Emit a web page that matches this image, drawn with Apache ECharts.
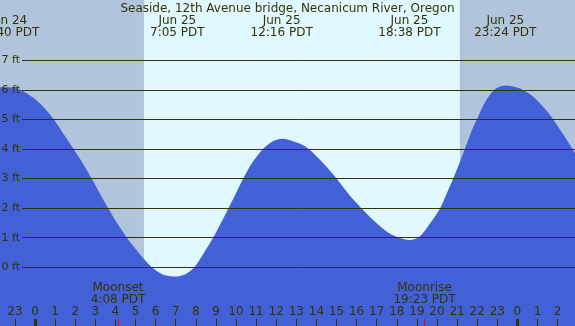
<!DOCTYPE html>
<html>
<head>
<meta charset="utf-8">
<script src="https://cdn.jsdelivr.net/npm/echarts@6/dist/echarts.min.js"></script>
<style>
  html, body { margin: 0; padding: 0; background: #fff; }
  #chart { width: 575px; height: 326px; }
</style>
</head>
<body>
<div id="chart"></div>
<script>
// tide heights (ft), hours counted from Jun 25 00:00 PDT
const tideHours = [
  -2.2, -1.74, -1.0, -0.5, -0.08, 0.42, 0.91, 1.41, 1.91, 2.41, 2.82, 3.23, 3.65, 4.06, 4.56,
  5.06, 5.47, 5.89, 6.39, 6.97, 7.46, 7.93, 8.37, 8.87, 9.29, 9.62, 10.03, 10.36, 10.78, 11.36,
  11.86, 12.3, 13.1, 13.6, 14.26, 14.93, 15.59, 16.25, 16.92, 17.58, 18.24, 18.64, 19.15, 19.65,
  20.15, 20.48, 20.81, 21.14, 21.39, 21.73, 21.98, 22.39, 22.89, 23.42, 24.04, 24.71, 25.37,
  25.79, 26.37, 26.83, 27.3,
];
const tideFeet = [
  6.05, 6.09, 6.07, 5.92, 5.73, 5.42, 5.02, 4.52, 4.01, 3.48, 3.0, 2.49, 1.99, 1.52, 1.01,
  0.58, 0.25, -0.04, -0.25, -0.31, -0.24, 0.0, 0.45, 1.01, 1.55, 1.99, 2.55, 3.0, 3.51, 4.01,
  4.27, 4.35, 4.2, 4.01, 3.58, 3.06, 2.49, 1.99, 1.54, 1.17, 0.97, 0.92, 1.05, 1.48,
  1.99, 2.49, 3.0, 3.56, 4.01, 4.63, 4.99, 5.58, 6.03, 6.15, 6.07, 5.81, 5.36,
  4.99, 4.4, 3.9, 3.35,
];

// high / low tide labels along the top
const eventHours = [-1.33, 7.08, 12.27, 18.63, 23.4];
const eventLabels = ['Jun 24\n22:40 PDT', 'Jun 25\n7:05 PDT', 'Jun 25\n12:16 PDT', 'Jun 25\n18:38 PDT', 'Jun 25\n23:24 PDT'];

// moon
const moonHours = [4.13, 19.38];
const moonLabels = ['Moonset\n4:08 PDT', 'Moonrise\n19:23 PDT'];

// daylight
const sunriseHour = 5.42;
const sunsetHour = 21.14;

const hourTicks = [-1, 0, 1, 2, 3, 4, 5, 6, 7, 8, 9, 10, 11, 12, 13, 14, 15, 16, 17, 18, 19, 20, 21, 22, 23, 24, 25, 26];
const midnightTicks = [0, 24];

const xMin = -1.741;
const xMax = 26.866;
const ink = '#333300';
const font = 'DejaVu Sans';

const nearest = (arr, v) => {
  let best = 0;
  arr.forEach((a, i) => { if (Math.abs(a - v) < Math.abs(arr[best] - v)) best = i; });
  return best;
};

const chart = echarts.init(document.getElementById('chart'));

const baseX = {
  gridIndex: 0,
  type: 'value',
  min: xMin,
  max: xMax,
  z: 4,
  axisLine: { show: false, onZero: false },
  splitLine: { show: false },
};

chart.setOption({
  animation: false,
  title: {
    text: 'Seaside, 12th Avenue bridge, Necanicum River, Oregon',
    left: 'center',
    top: -2,
    textStyle: { color: ink, fontSize: 12, fontWeight: 'normal', fontFamily: font },
  },
  grid: [
    { left: 0, right: 0, top: 0, bottom: 0, show: true, backgroundColor: '#E0F8FF', borderWidth: 0, outerBoundsMode: 'none', containLabel: false },
    { left: 22, right: 0, top: 60.3, bottom: 58.7, show: false, outerBoundsMode: 'none', containLabel: false },
  ],
  xAxis: [
    {
      ...baseX,
      position: 'bottom',
      axisTick: { customValues: hourTicks, inside: true, length: 7, lineStyle: { color: ink, width: 1 } },
      axisLabel: {
        customValues: hourTicks,
        inside: true,
        margin: 8,
        color: ink,
        fontSize: 12,
        fontFamily: font,
        formatter: v => String(((Math.round(v) % 24) + 24) % 24),
      },
    },
    {
      ...baseX,
      position: 'bottom',
      axisTick: { customValues: midnightTicks, inside: true, length: 7, lineStyle: { color: ink, width: 3 } },
      axisLabel: { show: false },
    },
    {
      ...baseX,
      position: 'bottom',
      axisTick: { customValues: moonHours, inside: true, length: 7, lineStyle: { color: '#ff0000', width: 1 } },
      axisLabel: {
        customValues: moonHours,
        inside: true,
        margin: 20,
        color: ink,
        fontSize: 12,
        lineHeight: 12,
        fontFamily: font,
        formatter: v => moonLabels[nearest(moonHours, v)],
      },
    },
    {
      ...baseX,
      position: 'top',
      axisTick: { show: false },
      axisLabel: {
        customValues: eventHours,
        inside: true,
        margin: 15,
        color: ink,
        fontSize: 12,
        lineHeight: 12,
        fontFamily: font,
        formatter: v => eventLabels[nearest(eventHours, v)],
      },
    },
    { gridIndex: 1, type: 'value', min: 0, max: 1, show: false },
  ],
  yAxis: [
    { gridIndex: 0, type: 'value', min: -1.985, max: 9.04, show: false },
    {
      gridIndex: 1,
      type: 'value',
      min: 0,
      max: 7,
      interval: 1,
      z: 3,
      axisLine: { show: false },
      axisTick: { show: false },
      splitLine: { show: true, lineStyle: { color: ink, width: 1 } },
      axisLabel: { formatter: '{value} ft', margin: 2, color: ink, fontSize: 11, fontFamily: font },
    },
  ],
  series: [
    {
      name: 'night',
      type: 'line',
      xAxisIndex: 0,
      yAxisIndex: 0,
      data: [],
      z: 1,
      markArea: {
        silent: true,
        itemStyle: { color: '#B0C4DE' },
        data: [
          [{ xAxis: xMin }, { xAxis: sunriseHour }],
          [{ xAxis: sunsetHour }, { xAxis: xMax }],
        ],
      },
    },
    {
      name: 'tide',
      type: 'line',
      xAxisIndex: 0,
      yAxisIndex: 0,
      data: tideHours.map((h, i) => [h, tideFeet[i]]),
      smooth: 0.3,
      showSymbol: false,
      lineStyle: { width: 0 },
      areaStyle: { color: '#4261D6', opacity: 1, origin: 'start' },
      z: 2,
    },
  ],
});
</script>
</body>
</html>
